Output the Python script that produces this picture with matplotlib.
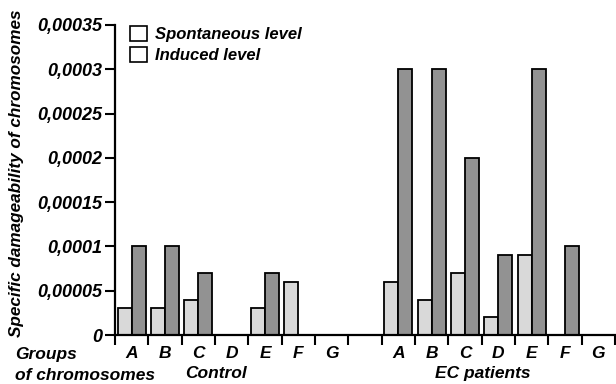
import numpy as np
import matplotlib
matplotlib.use('Agg')
import matplotlib.pyplot as plt
from matplotlib.patches import Patch

groups = ['A', 'B', 'C', 'D', 'E', 'F', 'G']
control_spont = [0.00003, 0.00003, 0.00004, 0, 0.00003, 0.00006, 0]
control_induced = [0.0001, 0.0001, 0.00007, 0, 0.00007, 0, 0]
ec_spont = [0.00006, 0.00004, 0.00007, 0.00002, 0.00009, 0, 0]
ec_induced = [0.0003, 0.0003, 0.0002, 0.00009, 0.0003, 0.0001, 0]
yticks = [0, 0.00005, 0.0001, 0.00015, 0.0002, 0.00025, 0.0003, 0.00035]
ytick_labels = ['0', '0,00005', '0,0001', '0,00015', '0,0002', '0,00025', '0,0003', '0,00035']

plt.rcParams['font.family'] = ['Liberation Sans', 'DejaVu Sans']
plt.rcParams['font.style'] = 'italic'
plt.rcParams['font.weight'] = 'bold'

light = '#d9d9d9'
dark = '#929292'
fs = 12.5

fig = plt.figure(figsize=(6.16, 3.84), dpi=100)
ax = fig.add_axes([115 / 616, 1 - 335 / 384, 500 / 616, 310 / 384])

# slot positions: control 0..6, empty slot 7, EC patients 8..14
ctrl_x = np.arange(7) + 0.5
ec_x = np.arange(7) + 8.5
w = 0.42
spont = control_spont + ec_spont
induced = control_induced + ec_induced
xs = np.concatenate([ctrl_x, ec_x])
for xi, s, ind in zip(xs, spont, induced):
    if s > 0:
        ax.bar(xi - w / 2, s, w, color=light, edgecolor='black', linewidth=1.3)
    if ind > 0:
        ax.bar(xi + w / 2, ind, w, color=dark, edgecolor='black', linewidth=1.3)

ax.set_xlim(0, 15)
ax.set_ylim(0, 0.00035)
ax.set_yticks(yticks)
ax.set_yticklabels(ytick_labels, fontsize=13)
ax.set_xticks(np.arange(16))
ax.set_xticklabels([])
ax.tick_params(axis='both', direction='out', length=7, width=1.5, color='black')
ax.tick_params(axis='y', pad=2)
for side in ['top', 'right']:
    ax.spines[side].set_visible(False)
for side in ['left', 'bottom']:
    ax.spines[side].set_linewidth(1.6)

for xi, g in zip(xs, groups + groups):
    ax.text(xi, -0.000021, g, ha='center', va='center', fontsize=fs)

ax.text(3.03, -0.000043, 'Control', ha='center', va='center', fontsize=fs)
ax.text(11.04, -0.000043, 'EC patients', ha='center', va='center', fontsize=fs)
fig.text(15 / 616, 1 - 355 / 384, 'Groups', ha='left', va='center', fontsize=fs)
fig.text(15 / 616, 1 - 376 / 384, 'of chromosomes', ha='left', va='center', fontsize=fs)

fig.text(17 / 616, 1 - 173 / 384, 'Specific damageability of chromosomes', rotation=90,
         ha='center', va='center', fontsize=12.3)

handles = [Patch(facecolor='white', edgecolor='black', linewidth=1.2),
           Patch(facecolor='white', edgecolor='black', linewidth=1.2)]
ax.legend(handles, ['Spontaneous level', 'Induced level'], loc='upper left',
          bbox_to_anchor=(0.0, 1.045), frameon=False, fontsize=12,
          handlelength=1.0, handleheight=1.0, handletextpad=0.5, labelspacing=0.3)

fig.savefig('out.png', dpi=100)
